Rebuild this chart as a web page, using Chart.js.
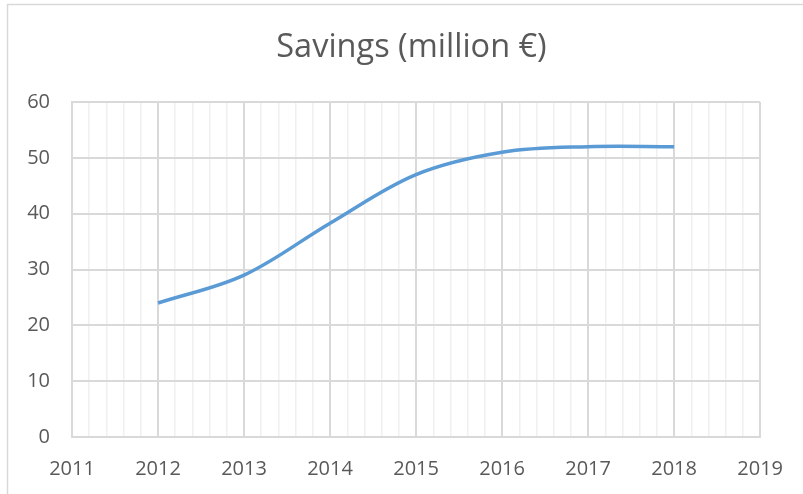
<!DOCTYPE html>
<html>
<head>
<meta charset="utf-8">
<script src="https://cdn.jsdelivr.net/npm/chart.js@4.4.0/dist/chart.umd.min.js"></script>
<style>
  html, body { margin: 0; padding: 0; background: #fff; }
  #wrap { width: 803px; height: 494px; }
</style>
</head>
<body>
<div id="wrap"><canvas id="savingsChart" width="803" height="494"></canvas></div>
<script>
var years = [2012, 2013, 2014, 2015, 2016, 2017, 2018];
var savings = [24, 29, 38.3, 47, 51, 52, 52];
var yearMin = 2011;
var yearMax = 2019;
var yTicks = [0, 10, 20, 30, 40, 50, 60];
var chartTitle = 'Savings (million €)';

var textColor = '#595959';
var fontFamily = '"Open Sans", "Liberation Sans", sans-serif';

function isWholeYear(v) {
    return Math.abs(v - Math.round(v)) < 1e-6;
}

// frame on the left/top edge + the title, centred over the whole box like the office chart
var framePlugin = {
    id: 'frame',
    beforeDraw: function (chart) {
        var ctx = chart.ctx;
        ctx.save();
        ctx.fillStyle = '#ffffff';
        ctx.fillRect(0, 0, chart.width, chart.height);
        ctx.strokeStyle = '#d9d9d9';
        ctx.lineWidth = 1.5;
        ctx.beginPath();
        ctx.moveTo(7.5, chart.height);
        ctx.lineTo(7.5, 4.5);
        ctx.lineTo(chart.width, 4.5);
        ctx.stroke();
        ctx.restore();
    },
    afterDraw: function (chart) {
        var ctx = chart.ctx;
        ctx.save();
        ctx.fillStyle = textColor;
        ctx.font = '32.5px ' + fontFamily;
        ctx.textAlign = 'center';
        ctx.textBaseline = 'alphabetic';
        ctx.fillText(chartTitle, 411.5, 57);
        ctx.restore();
    }
};

var points = years.map(function (y, i) {
    return { x: y, y: savings[i] };
});

var ctx = document.getElementById('savingsChart').getContext('2d');
var myChart = new Chart(ctx, {
    type: 'line',
    data: {
        datasets: [{
            label: 'Savings',
            data: points,
            borderColor: '#5b9bd5',
            borderWidth: 3.5,
            pointRadius: 0,
            fill: false,
            tension: 0.35,
            borderCapStyle: 'butt'
        }]
    },
    options: {
        responsive: false,
        animation: false,
        layout: { padding: { left: 8, right: 41, top: 102, bottom: 0 } },
        plugins: {
            legend: { display: false },
            tooltip: { enabled: false },
            title: { display: false }
        },
        scales: {
            x: {
                type: 'linear',
                min: yearMin,
                max: yearMax,
                afterBuildTicks: function (scale) {
                    var t = [];
                    for (var i = 0; i <= (yearMax - yearMin) * 5; i++) {
                        t.push({ value: yearMin + i / 5 });
                    }
                    scale.ticks = t;
                },
                afterFit: function (scale) { scale.height = 57; },
                grid: {
                    drawTicks: false,
                    color: function (c) {
                        return (c.tick && isWholeYear(c.tick.value)) ? '#d9d9d9' : '#f0f0f0';
                    },
                    lineWidth: function (c) {
                        return (c.tick && isWholeYear(c.tick.value)) ? 2 : 1.5;
                    }
                },
                border: { color: '#d9d9d9', width: 2 },
                ticks: {
                    autoSkip: false,
                    maxRotation: 0,
                    padding: 20,
                    color: textColor,
                    font: { family: fontFamily, size: 20 },
                    callback: function (v) {
                        return isWholeYear(v) ? String(Math.round(v)) : '';
                    }
                }
            },
            y: {
                min: yTicks[0],
                max: yTicks[yTicks.length - 1],
                afterBuildTicks: function (scale) {
                    scale.ticks = yTicks.map(function (v) { return { value: v }; });
                },
                afterFit: function (scale) { scale.width = 64; },
                grid: { drawTicks: false, color: '#d9d9d9', lineWidth: 2 },
                border: { color: '#d9d9d9', width: 2 },
                ticks: {
                    padding: 22,
                    color: textColor,
                    font: { family: fontFamily, size: 20 }
                }
            }
        }
    },
    plugins: [framePlugin]
});
</script>
</body>
</html>
